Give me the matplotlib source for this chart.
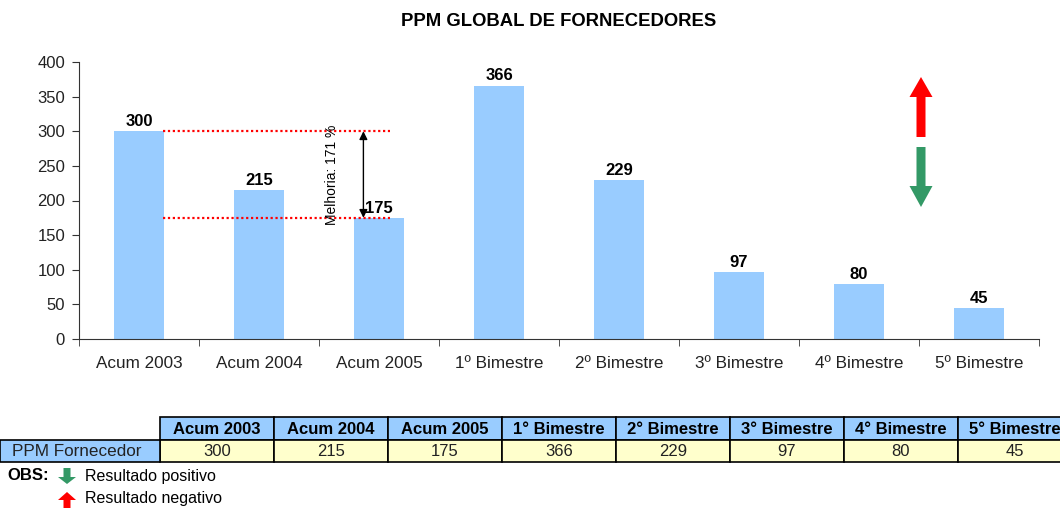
import numpy as np
import matplotlib
matplotlib.use("Agg")
import matplotlib.pyplot as plt
from matplotlib.patches import Rectangle, FancyArrow

plt.rcParams['font.family'] = ['Liberation Sans', 'DejaVu Sans']

categorias = ["Acum 2003", "Acum 2004", "Acum 2005", "1º Bimestre", "2º Bimestre",
              "3º Bimestre", "4º Bimestre", "5º Bimestre"]
cabecalho = ["Acum 2003", "Acum 2004", "Acum 2005", "1° Bimestre", "2° Bimestre",
             "3° Bimestre", "4° Bimestre", "5° Bimestre"]
ppm = [300, 215, 175, 366, 229, 97, 80, 45]
linha_nome = "PPM Fornecedor"
melhoria_txt = "Melhoria: 171 %"
ref_alto, ref_baixo = 300, 175

azul = "#99CCFF"
amarelo = "#FFFFCC"
vermelho = "#FF0000"
verde = "#339966"

W, H = 1060, 508
fig = plt.figure(figsize=(W / 100, H / 100), dpi=100)
fig.patch.set_facecolor("white")

# main chart
ax = fig.add_axes([79 / W, 1 - 339 / H, 960 / W, 277 / H])
x = np.arange(len(ppm))
ax.bar(x, ppm, width=0.41, color=azul, zorder=2)
for xi, v in zip(x, ppm):
    ax.annotate(str(v), (xi, v), xytext=(0, 1.5), textcoords="offset points",
                ha="center", va="bottom", fontsize=12, fontweight="bold")

ax.set_xlim(-0.5, len(ppm) - 0.5)
ax.set_ylim(0, 400)
ax.set_yticks(np.arange(0, 401, 50))
ax.set_xticks(x)
ax.set_xticklabels(categorias)
ax.set_xticks(np.arange(-0.5, len(ppm)), minor=True)
ax.tick_params(axis="x", which="major", length=0, pad=12, labelsize=12.3, colors="#222222")
ax.tick_params(axis="x", which="minor", length=5, direction="out", color="#333333")
ax.tick_params(axis="y", length=5, direction="out", pad=5, labelsize=12, color="#333333",
               labelcolor="#222222")
for s in ["top", "right"]:
    ax.spines[s].set_visible(False)
for s in ["left", "bottom"]:
    ax.spines[s].set_color("#333333")
ax.set_title("PPM GLOBAL DE FORNECEDORES", fontsize=13.3, fontweight="bold",
             pad=0, y=1.13)

# improvement markers
ax.hlines([ref_alto, ref_baixo], 0.2, 2.09, colors=vermelho, linestyles=(0, (1, 1.2)), lw=1.6, zorder=3)
ax.annotate("", xy=(1.87, ref_baixo), xytext=(1.87, ref_alto),
            arrowprops=dict(arrowstyle="<|-|>", color="black", lw=1, mutation_scale=12,
                            shrinkA=0, shrinkB=0), zorder=4)
ax.text(1.61, (ref_alto + ref_baixo) / 2, melhoria_txt, rotation=90, ha="center",
        va="center", fontsize=10)

# overlay in pixel coordinates for table and legend arrows
ov = fig.add_axes([0, 0, 1, 1], facecolor="none")
ov.set_xlim(0, W)
ov.set_ylim(H, 0)
ov.axis("off")

# trend arrows at the top right
ov.add_patch(FancyArrow(921, 137, 0, -60, width=9, head_width=23, head_length=20,
                        length_includes_head=True, color=vermelho, lw=0))
ov.add_patch(FancyArrow(921, 147, 0, 60, width=9, head_width=23, head_length=21,
                        length_includes_head=True, color=verde, lw=0))

# data table
y0, rh = 417, 22.5
lab_w = 160
col_w = 114
for j, (hdr, v) in enumerate(zip(cabecalho, ppm)):
    cx = lab_w + j * col_w
    ov.add_patch(Rectangle((cx, y0), col_w, rh, facecolor=azul, edgecolor="black", lw=1.2))
    ov.add_patch(Rectangle((cx, y0 + rh), col_w, rh, facecolor=amarelo, edgecolor="black", lw=1.2))
    ov.text(cx + col_w / 2, y0 + rh / 2 + 1, hdr, ha="center", va="center",
            fontsize=12, fontweight="bold")
    ov.text(cx + col_w / 2, y0 + rh * 1.5 + 1, str(v), ha="center", va="center",
            fontsize=12, color="#222222")
ov.add_patch(Rectangle((0, y0 + rh), lab_w, rh, facecolor=azul, edgecolor="black", lw=1.2))
ov.text(12, y0 + rh * 1.5 + 1, linha_nome, ha="left", va="center", fontsize=12.3, color="#222222")

# legend notes
ov.text(7, 476, "OBS:", ha="left", va="center", fontsize=12, fontweight="bold")
ov.add_patch(FancyArrow(67, 468, 0, 16, width=7, head_width=18, head_length=7,
                        length_includes_head=True, color=verde, lw=0))
ov.text(85, 476, "Resultado positivo", ha="left", va="center", fontsize=11.5)
ov.add_patch(FancyArrow(67, 510, 0, -18, width=7, head_width=18, head_length=8,
                        length_includes_head=True, color=vermelho, lw=0))
ov.text(85, 498, "Resultado negativo", ha="left", va="center", fontsize=11.5)

fig.savefig("out.png", dpi=100, facecolor="white")
